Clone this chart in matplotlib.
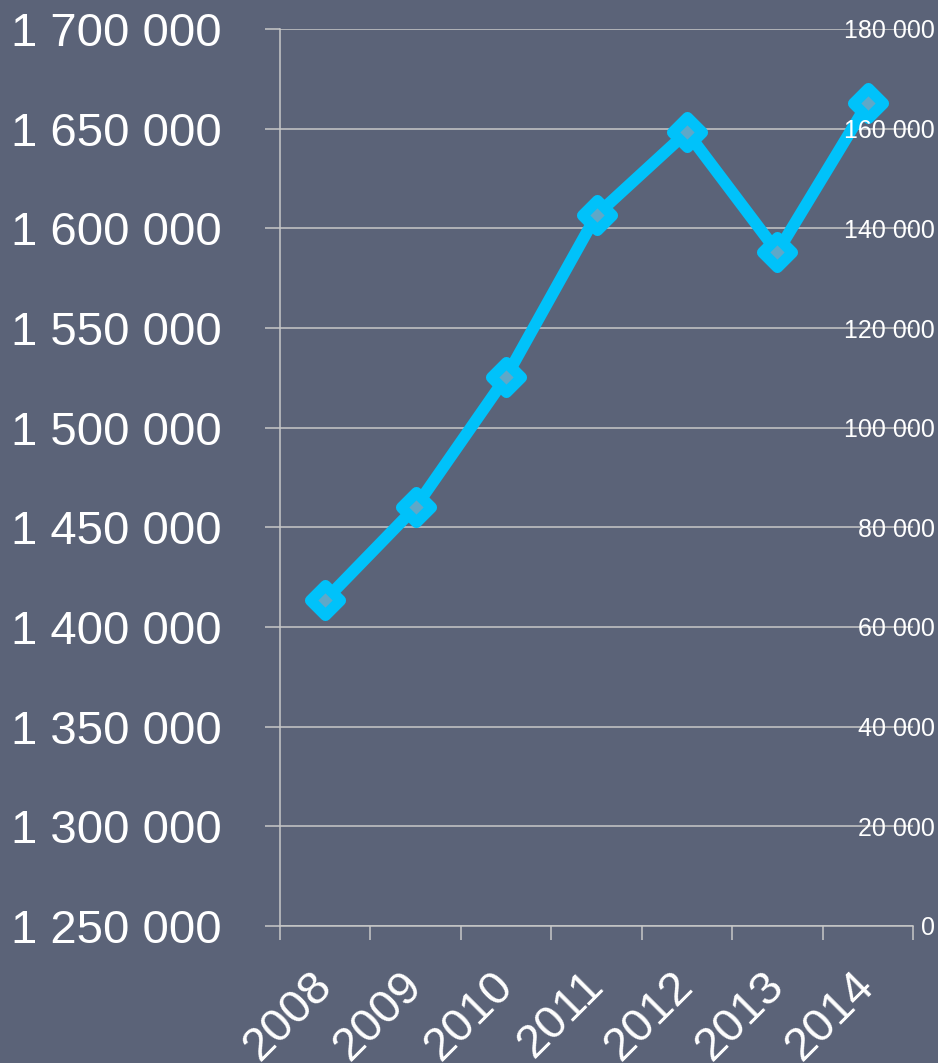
import matplotlib as mpl
import matplotlib.pyplot as plt
import matplotlib.ticker as ticker
from matplotlib.markers import MarkerStyle
import numpy as np

years = ['2008', '2009', '2010', '2011', '2012', '2013', '2014']
values = [1413500, 1460200, 1525400, 1606700, 1648300, 1588100, 1662900]

left_ticks = [1250000, 1300000, 1350000, 1400000, 1450000, 1500000, 1550000, 1600000, 1650000, 1700000]
right_ticks = [0, 20000, 40000, 60000, 80000, 100000, 120000, 140000, 160000, 180000]

bg = '#5b6378'
line_color = '#00c2fa'
grid_color = '#c8c8c8'

plt.rcParams['font.family'] = ['Liberation Sans', 'DejaVu Sans']


def space_fmt(v, pos=None):
    return '{:,.0f}'.format(v).replace(',', ' ')


fig = plt.figure(figsize=(9.38, 10.63), dpi=100, facecolor=bg)
ax = fig.add_axes([280/938, 1 - 926/1063, (913 - 280)/938, (926 - 29)/1063])
ax.set_facecolor(bg)

x = np.arange(len(years)) + 0.5
ax.plot(x, values, color=line_color, linewidth=8.5, marker=MarkerStyle('D', joinstyle='round'),
        markersize=15, markeredgewidth=8, markeredgecolor=line_color, markerfacecolor='#5fa8c8',
        solid_joinstyle='round', zorder=5, clip_on=False)

ax.set_xlim(0, len(years))
ax.set_ylim(left_ticks[0], left_ticks[-1])

# left axis
ax.set_yticks(left_ticks)
ax.yaxis.set_major_formatter(ticker.FuncFormatter(space_fmt))
ax.tick_params(axis='y', length=11, width=1.1, color=grid_color, pad=31,
               labelsize=34, labelcolor='white')
ax.grid(axis='y', color=grid_color, linewidth=1.1)
ax.set_axisbelow(True)

# category axis: tick marks on boundaries, labels at centers
ax.set_xticks(np.arange(len(years) + 1))
ax.set_xticklabels([])
ax.tick_params(axis='x', which='major', length=10, width=1.1, color=grid_color)
ax.set_xticks(x, minor=True)
ax.set_xticklabels(years, minor=True, rotation=45, ha='right', va='center',
                   rotation_mode='anchor')
ax.tick_params(axis='x', which='minor', length=0, pad=38, labelsize=34, labelcolor='white')

for side in ['top', 'right']:
    ax.spines[side].set_visible(False)
for side in ['left', 'bottom']:
    ax.spines[side].set_color(grid_color)
    ax.spines[side].set_linewidth(1.1)

# right axis
ax2 = ax.twinx()
ax2.set_ylim(right_ticks[0], right_ticks[-1])
ax2.set_yticks(right_ticks)
ax2.yaxis.set_major_formatter(ticker.FuncFormatter(space_fmt))
ax2.tick_params(axis='y', length=0, pad=16, labelsize=18, labelcolor='white')
for lab in ax2.get_yticklabels():
    lab.set_horizontalalignment('right')
for side in ['top', 'right', 'left', 'bottom']:
    ax2.spines[side].set_visible(False)

plt.savefig('out.png', dpi=100, facecolor=bg)
